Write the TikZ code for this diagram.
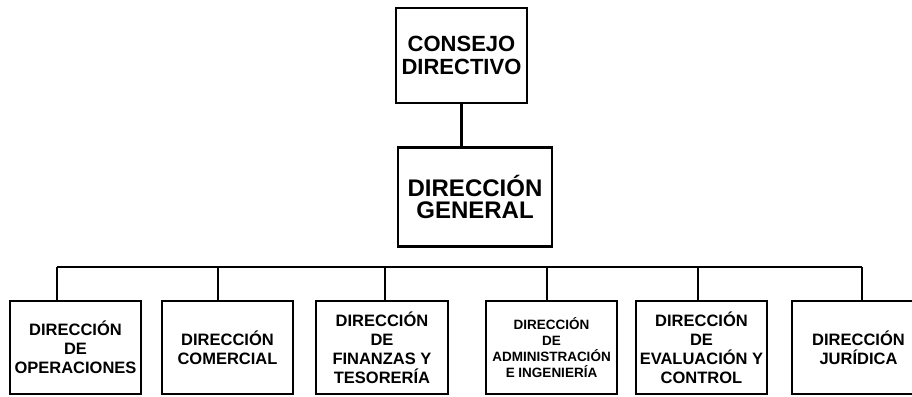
\documentclass[tikz,border=0pt]{standalone}
\usepackage{fontspec}
\setmainfont{Liberation Sans}
\tikzset{
  caja/.style={rectangle,draw=black,line width=2.8pt,align=center,inner sep=0pt,
    minimum width=131pt,minimum height=93pt,font=\bfseries\fontsize{16.5}{19}\selectfont},
  linea/.style={draw=black,line width=2.8pt}
}
\begin{document}
\begin{tikzpicture}[x=1pt,y=-1pt]
  \useasboundingbox (0,0) rectangle (912,396);
  % niveles superiores
  \node[caja,minimum height=95pt,font=\bfseries\fontsize{22}{23}\selectfont] (CD) at (461.5,55.5) {CONSEJO\\DIRECTIVO};
  \node[caja,minimum width=154pt,minimum height=99pt,font=\bfseries\fontsize{24}{22}\selectfont] (DG) at (475,197) {DIRECCIÓN\\GENERAL};
  % direcciones
  \node[caja] (OP) at (75.5,347.5)  {DIRECCIÓN\\DE\\OPERACIONES};
  \node[caja] (CO) at (227.5,347.5) {DIRECCIÓN\\COMERCIAL};
  \node[caja,minimum width=132pt] (FT) at (382,347.5) {DIRECCIÓN\\DE\\FINANZAS Y\\TESORERÍA};
  \node[caja,font=\bfseries\fontsize{13.5}{16}\selectfont] (AI) at (551.5,347.5) {DIRECCIÓN\\DE\\ADMINISTRACIÓN\\E INGENIERÍA};
  \node[caja] (EC) at (701.5,347.5) {DIRECCIÓN\\DE\\EVALUACIÓN Y\\CONTROL};
  \node[caja,minimum width=133pt] (JU) at (858.5,347.5) {DIRECCIÓN\\JURÍDICA};
  % barra
  \coordinate (b1) at (57,267);
  \coordinate (b2) at (218,267);
  \coordinate (b3) at (385,267);
  \coordinate (b4) at (547,267);
  \coordinate (b5) at (698,267);
  \coordinate (b6) at (862,267);
  \path[linea] (CD.south) -- (CD.south |- DG.north);
  \path[linea] (b1) -- (b6);
  \path[linea] (b1) -- (b1 |- OP.north);
  \path[linea] (b2) -- (b2 |- CO.north);
  \path[linea] (b3) -- (b3 |- FT.north);
  \path[linea] (b4) -- (b4 |- AI.north);
  \path[linea] (b5) -- (b5 |- EC.north);
  \path[linea] (b6) -- (b6 |- JU.north);
\end{tikzpicture}
\end{document}
